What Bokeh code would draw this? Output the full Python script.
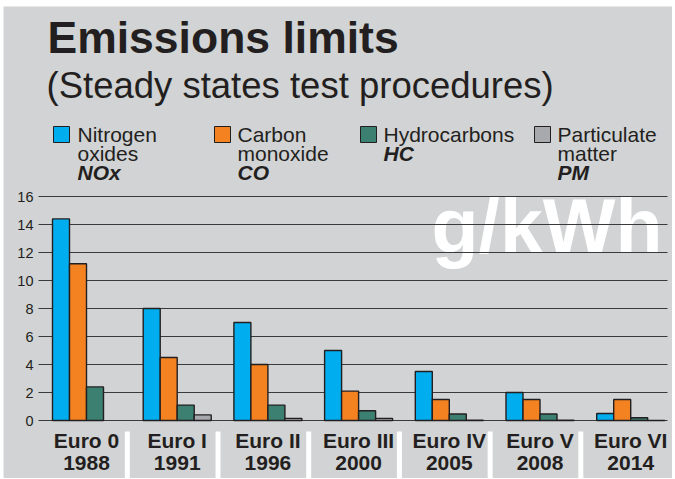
import numpy as np
from bokeh.plotting import figure
from bokeh.models import ColumnDataSource, Range1d
from bokeh.transform import dodge
from bokeh.core.properties import value
from bokeh.embed import file_html
from bokeh.resources import INLINE

# ---------------- data ----------------
stages = ["Euro 0", "Euro I", "Euro II", "Euro III", "Euro IV", "Euro V", "Euro VI"]
years = ["1988", "1991", "1996", "2000", "2005", "2008", "2014"]
nox = [14.4, 8.0, 7.0, 5.0, 3.5, 2.0, 0.5]
co = [11.2, 4.5, 4.0, 2.1, 1.5, 1.5, 1.5]
hc = [2.4, 1.1, 1.1, 0.7, 0.46, 0.46, 0.2]
pm = [np.nan, 0.4, 0.15, 0.15, 0.02, 0.02, 0.01]
yticks = [0, 2, 4, 6, 8, 10, 12, 14, 16]
ytick_labels = [str(t) for t in yticks]

series_names = [["Nitrogen", "oxides"], ["Carbon", "monoxide"], ["Hydrocarbons"], ["Particulate", "matter"]]
series_codes = ["NOx", "CO", "HC", "PM"]
series_keys = ["nox", "co", "hc", "pm"]

# ---------------- style ----------------
BG = "#d1d3d4"
INK = "#231f20"
COLORS = ["#00aeef", "#f58220", "#3b8070", "#a7a9ac"]
FONT = value("Liberation Sans")

# page-pixel helpers (page px -> data units)
GX0, GXS = 86.0, 90.7     # page x of group 0 centre, px per group
GY0, GYS = 420.0, 14.0    # page y of value 0, px per unit
def px(xp):
    return (xp - GX0) / GXS
def py(yp):
    return (GY0 - yp) / GYS

p = figure(width=672, height=478, output_backend="svg", toolbar_location=None,
           x_range=Range1d(px(3), px(672)), y_range=Range1d(py(478), py(6)),
           min_border_left=3, min_border_right=0, min_border_top=6, min_border_bottom=0,
           x_axis_location=None, y_axis_location=None)
p.background_fill_color = BG
p.border_fill_color = "white"
p.outline_line_color = None
p.grid.visible = False

# titles
p.text(x=[px(47)], y=[py(37)], text=["Emissions limits"], text_font=FONT,
       text_font_size="44.5px", text_font_style="bold", text_color=INK,
       text_baseline="middle", text_align="left")
p.text(x=[px(46)], y=[py(84.5)], text=["(Steady states test procedures)"], text_font=FONT,
       text_font_size="36.5px", text_color=INK, text_baseline="middle", text_align="left")

# unit watermark
p.text(x=[px(662)], y=[py(225)], text=["g/kWh"], text_font=FONT, text_font_size="77px",
       text_font_style="bold", text_color="white", text_baseline="middle", text_align="right")

# y tick labels and gridlines
p.text(x=[px(33)] * len(yticks), y=yticks, text=ytick_labels, text_font=FONT,
       text_font_size="14.5px", text_color=INK, text_align="right", text_baseline="middle")
p.segment(x0=[px(38)] * len(yticks), x1=[px(667)] * len(yticks), y0=yticks, y1=yticks,
          line_color="#3a3a3a", line_width=1.1)

# bars
src = ColumnDataSource(dict(x=list(range(len(stages))), nox=nox, co=co, hc=hc, pm=pm))
bw = 17.0 / GXS
for k, key in enumerate(series_keys):
    p.vbar(x=dodge("x", (k - 1.5) * bw, range=p.x_range), top=key, bottom=0, width=bw,
           source=src, fill_color=COLORS[k], line_color=INK, line_width=1.4)

# legend
leg_sq_x = [53, 214, 360, 534]
leg_tx_x = [77, 237, 383, 557]
for k in range(4):
    p.quad(left=[px(leg_sq_x[k])], right=[px(leg_sq_x[k] + 16)], top=[py(126)], bottom=[py(142)],
           fill_color=COLORS[k], line_color=INK, line_width=1)
    lines = series_names[k]
    for j, t in enumerate(lines):
        p.text(x=[px(leg_tx_x[k])], y=[py(134 + 19 * j)], text=[t], text_font=FONT,
               text_font_size="21px", text_color=INK, text_baseline="middle")
    p.text(x=[px(leg_tx_x[k])], y=[py(134 + 19 * len(lines))], text=[series_codes[k]], text_font=FONT,
           text_font_size="21px", text_font_style="bold italic", text_color=INK,
           text_baseline="middle")

# category label band: white separators
seps = np.arange(len(stages) - 1) + 0.5 - 0.05
sw = 5.0 / GXS
p.quad(left=seps - sw / 2, right=seps + sw / 2, top=py(431), bottom=py(480),
       fill_color="white", line_color=None)

xs = list(range(len(stages)))
p.text(x=xs, y=[py(440)] * len(xs), text=stages, text_font=FONT, text_font_size="21px",
       text_font_style="bold", text_color=INK, text_align="center", text_baseline="middle")
p.text(x=xs, y=[py(462)] * len(xs), text=years, text_font=FONT, text_font_size="21px",
       text_font_style="bold", text_color=INK, text_align="center", text_baseline="middle")

open("out.html", "w").write(file_html(p, INLINE))
